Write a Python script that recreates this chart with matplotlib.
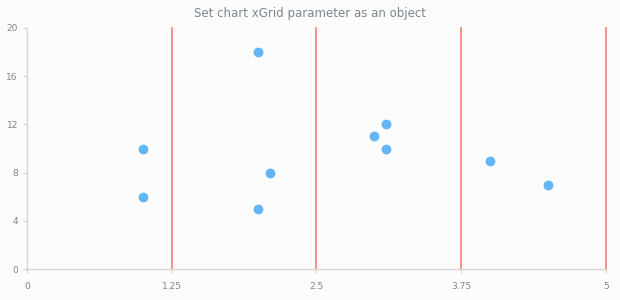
import matplotlib
matplotlib.use("Agg")
import matplotlib.pyplot as plt

x_values = [1, 1, 2, 2, 2.1, 3, 3.1, 3.1, 4, 4.5]
y_values = [10, 6, 18, 5, 8, 11, 12, 10, 9, 7]
x_ticks = [0, 1.25, 2.5, 3.75, 5]
x_tick_labels = ["0", "1.25", "2.5", "3.75", "5"]
y_ticks = [0, 4, 8, 12, 16, 20]

fig = plt.figure(figsize=(6.2, 3.0), dpi=100)
fig.patch.set_facecolor("#fcfcfc")
ax = fig.add_axes([0.0435, 0.103, 0.9335, 0.804])
ax.set_facecolor("#fcfcfc")

# red vertical grid lines (skip the one at 0)
for t in x_ticks[1:]:
    ax.axvline(t, color="#f6877f", linewidth=1.3, zorder=1, clip_on=False)

ax.scatter(x_values, y_values, s=50, color="#64b5f6", zorder=3, linewidths=0)

ax.set_xlim(0, 5)
ax.set_ylim(0, 20)
ax.set_xticks(x_ticks)
ax.set_xticklabels(x_tick_labels)
ax.set_yticks(y_ticks)

for side in ["top", "right"]:
    ax.spines[side].set_visible(False)
for side in ["left", "bottom"]:
    ax.spines[side].set_color("#d6d6d6")
    ax.spines[side].set_linewidth(1.0)

ax.tick_params(colors="#d6d6d6", labelcolor="#7c868e", labelsize=6.5, length=3, width=1)
ax.tick_params(axis="x", pad=6)

fig.text(0.5, 0.955, "Set chart xGrid parameter as an object", ha="center", va="center",
         fontsize=8.5, color="#7c868e")

fig.savefig("out.png", dpi=100, facecolor=fig.get_facecolor())
